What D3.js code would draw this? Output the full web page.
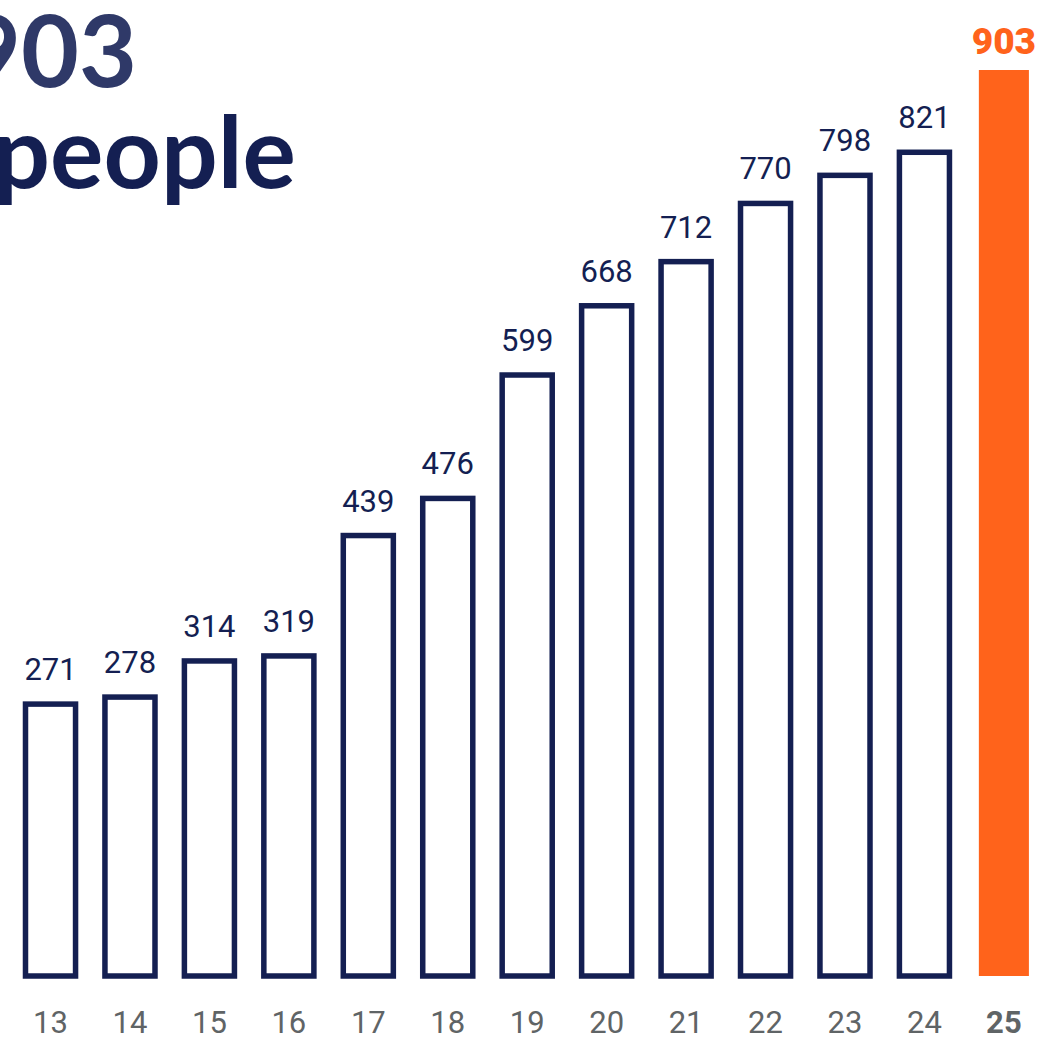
<!DOCTYPE html>
<html>
<head>
<meta charset="utf-8">
<script src="https://cdn.jsdelivr.net/npm/d3@7/dist/d3.min.js"></script>
<style>
  html, body { margin: 0; padding: 0; background: #ffffff; overflow: hidden; }
  svg { display: block; }
</style>
</head>
<body>
<script>
// Yearly totals, '13 through '25
const years  = ["13", "14", "15", "16", "17", "18", "19", "20", "21", "22", "23", "24", "25"];
const totals = [271, 278, 314, 319, 439, 476, 599, 668, 712, 770, 798, 821, 903];
const headline = ["903", "people"];

const W = 1061, H = 1037;
const navy = "#141f52";
const orange = "#ff631b";
const grey = "#5f6466";

const svg = d3.select("body").append("svg")
  .attr("width", W).attr("height", H);

const data = years.map((y, i) => ({ year: y, value: totals[i], latest: i === years.length - 1 }));

const x = d3.scaleBand()
  .domain(years)
  .range([10.8, 1043.6])
  .paddingInner(0.37)
  .paddingOuter(0.185);

const y = d3.scaleLinear()
  .domain([0, 903])
  .range([976, 70]);

// Headline, running off the left edge
svg.append("text")
  .attr("x", 137).attr("y", 87)
  .attr("text-anchor", "end")
  .attr("font-family", "Lato, sans-serif")
  .attr("font-weight", 700)
  .attr("font-size", 100)
  .attr("fill", "#2f3968")
  .text(headline[0]);

svg.append("text")
  .attr("x", 296).attr("y", 188)
  .attr("text-anchor", "end")
  .attr("font-family", "Lato, sans-serif")
  .attr("font-weight", 700)
  .attr("font-size", 100)
  .attr("fill", navy)
  .text(headline[1]);

// Bars: outlined for past years, solid for the latest
svg.append("g").selectAll("rect")
  .data(data)
  .join("rect")
  .attr("x", d => x(d.year))
  .attr("width", x.bandwidth())
  .attr("y", d => y(d.value))
  .attr("height", d => y(0) - y(d.value))
  .attr("fill", d => d.latest ? orange : "#ffffff")
  .attr("stroke", d => d.latest ? "none" : navy)
  .attr("stroke-width", 5.5);

// Value labels
svg.append("g").selectAll("text")
  .data(data)
  .join("text")
  .attr("x", d => x(d.year) + x.bandwidth() / 2)
  .attr("y", d => y(d.value) - (d.latest ? 16 : 24))
  .attr("text-anchor", "middle")
  .attr("font-family", "Roboto, sans-serif")
  .attr("font-weight", d => d.latest ? 900 : 400)
  .attr("font-size", d => d.latest ? 37 : 31)
  .attr("fill", d => d.latest ? orange : navy)
  .text(d => d.value);

// Year axis
const axis = svg.append("g")
  .attr("transform", `translate(0,${y(0)})`)
  .call(d3.axisBottom(x).tickSize(0).tickPadding(0));
axis.select(".domain").remove();
axis.selectAll("text")
  .attr("y", 57)
  .attr("dy", 0)
  .attr("font-family", "Roboto, sans-serif")
  .attr("font-size", 31)
  .attr("fill", grey)
  .attr("font-weight", (d, i) => i === years.length - 1 ? 700 : 400);
</script>
</body>
</html>
